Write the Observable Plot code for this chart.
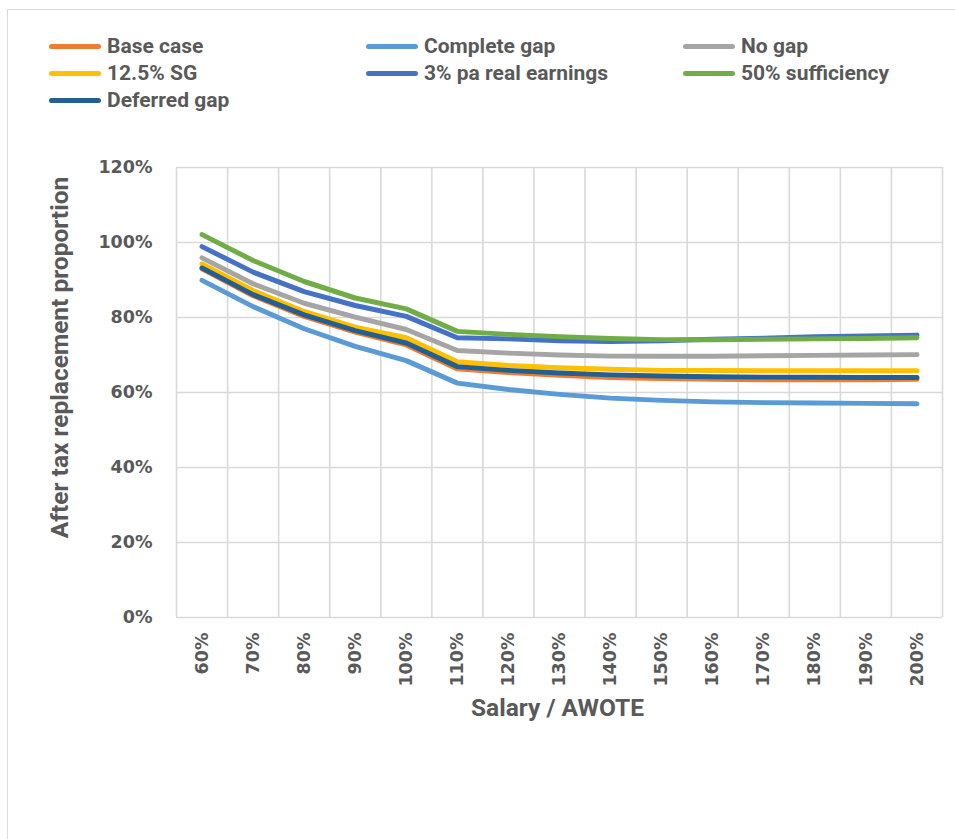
<!DOCTYPE html>
<html>
<head>
<meta charset="utf-8">
<script src="https://cdn.jsdelivr.net/npm/d3@7"></script>
<script src="https://cdn.jsdelivr.net/npm/@observablehq/plot@0.6"></script>
<style>
  html, body { margin: 0; padding: 0; background: #fff; }
  #wrap { position: relative; width: 955px; height: 839px; overflow: hidden; background: #fff; }
  #border { position: absolute; left: 7px; top: 9px; width: 1000px; height: 900px; border-top: 1.5px solid #d9d9d9; border-left: 1.5px solid #d9d9d9; }
  #chart { position: absolute; left: 0; top: 0; }
  .legend-item { position: absolute; display: flex; align-items: center; height: 24px;
    font-family: "Roboto", sans-serif; font-weight: bold; font-size: 21px; color: #595959; white-space: nowrap; }
  .swatch { width: 52px; height: 5px; border-radius: 3px; margin-right: 6px; }
</style>
</head>
<body>
<div id="wrap">
  <div id="border"></div>
  <div id="chart"></div>
  <div id="legend"></div>
</div>
<script>
// Categories (salary as % of AWOTE) and tick labels
const salary = [60, 70, 80, 90, 100, 110, 120, 130, 140, 150, 160, 170, 180, 190, 200];
const xLabels = ["60%", "70%", "80%", "90%", "100%", "110%", "120%", "130%", "140%", "150%", "160%", "170%", "180%", "190%", "200%"];
const yTicks = [0, 20, 40, 60, 80, 100, 120];
const yLabels = ["0%", "20%", "40%", "60%", "80%", "100%", "120%"];

// Series values: after tax replacement proportion (%)
const baseCase     = [93.0, 85.8, 80.3, 76.1, 72.7, 66.3, 65.3, 64.6, 64.0, 63.7, 63.5, 63.4, 63.4, 63.4, 63.5];
const completeGap  = [89.9, 82.9, 77.0, 72.3, 68.5, 62.5, 60.8, 59.5, 58.5, 57.9, 57.5, 57.3, 57.2, 57.1, 57.0];
const noGap        = [95.9, 89.0, 83.8, 80.1, 76.8, 71.2, 70.5, 70.0, 69.7, 69.7, 69.7, 69.8, 69.9, 70.0, 70.1];
const sg125        = [94.3, 87.2, 81.6, 77.4, 74.6, 68.2, 67.2, 66.6, 66.2, 65.9, 65.9, 65.8, 65.8, 65.8, 65.8];
const realEarnings = [98.9, 92.1, 86.9, 83.2, 80.3, 74.6, 74.3, 73.8, 73.6, 73.8, 74.2, 74.5, 74.9, 75.1, 75.3];
const sufficiency  = [102.1, 95.2, 89.6, 85.2, 82.3, 76.3, 75.5, 74.9, 74.4, 74.1, 74.1, 74.2, 74.3, 74.4, 74.6];
const deferredGap  = [93.2, 86.1, 80.7, 76.5, 73.2, 66.9, 65.9, 65.2, 64.7, 64.4, 64.2, 64.1, 64.1, 64.0, 64.0];

const seriesNames  = ["Base case", "Complete gap", "No gap", "12.5% SG", "3% pa real earnings", "50% sufficiency", "Deferred gap"];
const seriesValues = [baseCase, completeGap, noGap, sg125, realEarnings, sufficiency, deferredGap];
const seriesColors = ["#ED7D31", "#5B9BD5", "#A5A5A5", "#FFC000", "#4472C4", "#70AD47", "#255E91"];

const rows = [];
seriesNames.forEach((name, i) => {
  salary.forEach((s, j) => rows.push({series: name, salary: s, value: seriesValues[i][j]}));
});

const labelOf = new Map(salary.map((s, i) => [s, xLabels[i]]));
const yLabelOf = new Map(yTicks.map((t, i) => [t, yLabels[i]]));
const xGrid = d3.range(55, 206, 10);

const chart = Plot.plot({
  width: 955,
  height: 839,
  marginLeft: 176,
  marginRight: 13,
  marginTop: 167,
  marginBottom: 222,
  style: {background: "transparent", overflow: "visible"},
  x: {type: "linear", domain: [55, 205]},
  y: {domain: [0, 120]},
  color: {domain: seriesNames, range: seriesColors},
  marks: [
    Plot.gridY(yTicks, {stroke: "#d9d9d9", strokeOpacity: 1, strokeWidth: 1.6}),
    Plot.gridX(xGrid, {stroke: "#d9d9d9", strokeOpacity: 1, strokeWidth: 1.6}),
    Plot.axisY(yTicks, {tickSize: 0, tickPadding: 24, tickFormat: d => yLabelOf.get(d), label: null,
      fontFamily: "DejaVu Sans", fontWeight: "bold", fontSize: 17.5, fill: "#595959"}),
    Plot.axisX(salary, {tickSize: 0, tickPadding: 15, tickRotate: -90, tickFormat: d => labelOf.get(d), label: null,
      fontFamily: "DejaVu Sans", fontWeight: "bold", fontSize: 17.5, fill: "#595959"}),
    Plot.text(["After tax replacement proportion"], {frameAnchor: "left", textAnchor: "middle", dx: -116, dy: -35, rotate: -90,
      text: d => d, fontFamily: "Roboto, sans-serif", fontWeight: "bold", fontSize: 24.5, fill: "#595959"}),
    Plot.text(["Salary / AWOTE"], {frameAnchor: "bottom", dx: -2, dy: 98,
      text: d => d, fontFamily: "Roboto, sans-serif", fontWeight: "bold", fontSize: 24.5, fill: "#595959"}),
    Plot.line(rows, {x: "salary", y: "value", z: "series", stroke: "series", strokeWidth: 5, strokeLinecap: "round", strokeLinejoin: "round"})
  ]
});
document.getElementById("chart").appendChild(chart);

// Legend (3 columns)
const legendPos = [
  [49, 46], [366, 46], [683, 46],
  [49, 73], [366, 73], [683, 73],
  [49, 100]
];
const legend = document.getElementById("legend");
seriesNames.forEach((name, i) => {
  const item = document.createElement("div");
  item.className = "legend-item";
  item.style.left = legendPos[i][0] + "px";
  item.style.top = (legendPos[i][1] - 12) + "px";
  const sw = document.createElement("div");
  sw.className = "swatch";
  sw.style.background = seriesColors[i];
  const tx = document.createElement("span");
  tx.textContent = name;
  item.appendChild(sw);
  item.appendChild(tx);
  legend.appendChild(item);
});
</script>
</body>
</html>
